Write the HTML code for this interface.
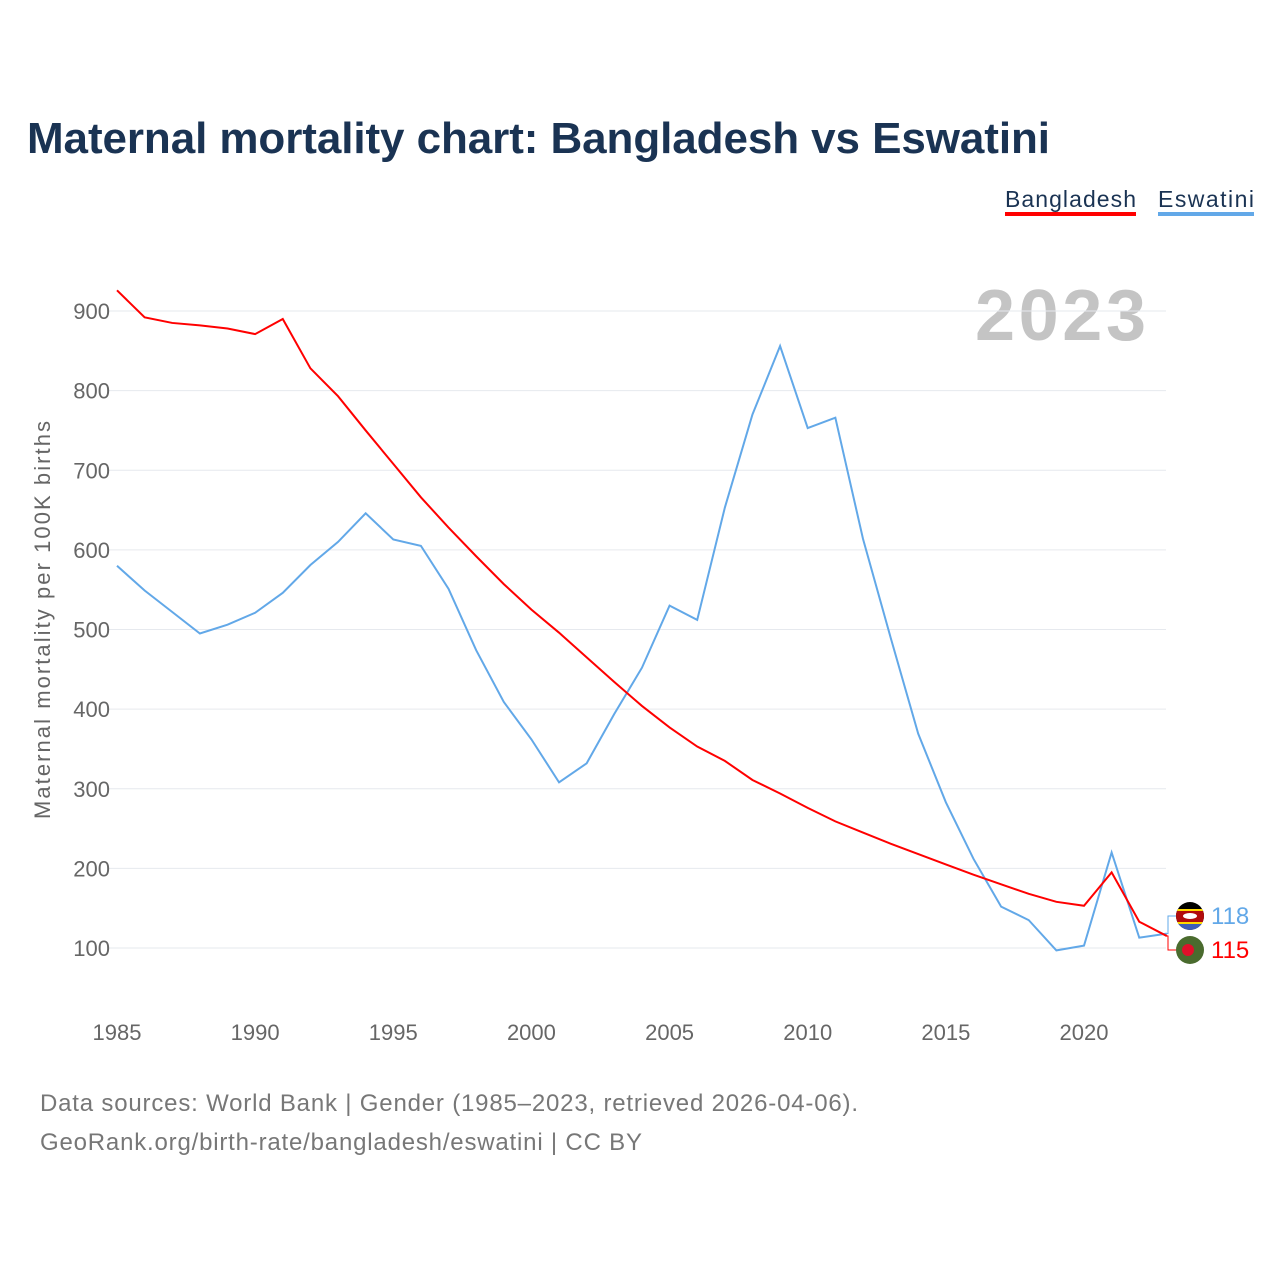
<!DOCTYPE html>
<html><head><meta charset="utf-8"><style>
body{margin:0;background:#fff;font-family:"Liberation Sans",sans-serif}
</style></head><body>
<svg id="c" width="1280" height="1280" xmlns="http://www.w3.org/2000/svg">
<defs><clipPath id="cl1"><circle cx="1190" cy="916" r="14"/></clipPath></defs>
<text x="27" y="153" font-size="44" font-weight="bold" fill="#1a3353" textLength="1023">Maternal mortality chart: Bangladesh vs Eswatini</text>
<g><text x="1005" y="207" font-size="23" fill="#1a3353" textLength="131">Bangladesh</text><rect x="1005" y="212" width="131" height="4" fill="#ff0000"/></g>
<g><text x="1158" y="207" font-size="23" fill="#1a3353" textLength="96">Eswatini</text><rect x="1158" y="212" width="96" height="4" fill="#62a8e8"/></g>
<text x="975" y="340" font-size="72" font-weight="bold" fill="#c4c4c4" textLength="171">2023</text>
<g id="grid"></g><g id="xt"></g><g id="lines"></g>
<text transform="translate(50,620) rotate(-90)" font-size="22" fill="#666" text-anchor="middle" textLength="398">Maternal mortality per 100K births</text>
<text x="40" y="1111" font-size="24" fill="#777" textLength="818">Data sources: World Bank | Gender (1985–2023, retrieved 2026-04-06).</text>
<text x="40" y="1150" font-size="24" fill="#777" textLength="602">GeoRank.org/birth-rate/bangladesh/eswatini | CC BY</text>
</svg>
<script>
const years=[];for(let y=1985;y<=2023;y++)years.push(y);
const bangladesh=[926,892,885,882,878,871,890,828,793,750,708,666,628,592,557,525,496,465,434,404,377,353,335,311,294,276,259,245,231,218,205,192,180,168,158,153,195,133,115];
const eswatini=[580,549,522,495,506,521,546,581,610,646,613,605,551,474,409,362,308,332,394,452,530,512,653,770,856,753,766,614,490,369,283,212,152,135,97,103,220,113,118];
const yTicks=[100,200,300,400,500,600,700,800,900];
const xTicks=[1985,1990,1995,2000,2005,2010,2015,2020];
const NS="http://www.w3.org/2000/svg";
const X=v=>117+(v-1985)*(1084-117)/35;
const Y=v=>948-(v-100)*(637/800);
function mk(t,a,p){const e=document.createElementNS(NS,t);for(const k in a)e.setAttribute(k,a[k]);p.appendChild(e);return e;}
const g=document.getElementById('grid');
yTicks.forEach(t=>{const l=mk('line',{x1:108,x2:1166,y1:Y(t),y2:Y(t),stroke:'#e6e9ee','stroke-width':1},g);


const tx=mk('text',{x:110,y:Y(t)+8,'font-size':22,fill:'#666','text-anchor':'end'},g);tx.textContent=t;

});
const xt=document.getElementById('xt');
xTicks.forEach(t=>{const tx=mk('text',{x:X(t),y:1040,'font-size':22,fill:'#666','text-anchor':'middle'},xt);tx.textContent=t;

});
const L=document.getElementById('lines');
function line(d,c,n){const p=mk('polyline',{points:d.map((v,i)=>X(years[i])+','+Y(v)).join(' '),fill:'none',stroke:c,'stroke-width':2},L);

}
line(eswatini,'#62a8e8','eswatini-line');line(bangladesh,'#ff0000','bangladesh-line');
const lx=X(2023),ey=916,by=950;
mk('polyline',{points:`${lx},${Y(eswatini[38])} 1168,${Y(eswatini[38])} 1168,${ey} 1176,${ey}`,fill:'none',stroke:'#62a8e8','stroke-width':1},L);
mk('polyline',{points:`${lx},${Y(bangladesh[38])} 1168,${Y(bangladesh[38])} 1168,${by} 1176,${by}`,fill:'none',stroke:'#ff0000','stroke-width':1},L);
const f1=mk('g',{'clip-path':'url(#cl1)'},L);
mk('rect',{x:1176,y:ey-14,width:28,height:28,fill:'#000'},f1);mk('rect',{x:1176,y:ey-7,width:28,height:2,fill:'#ffd900'},f1);mk('rect',{x:1176,y:ey-5,width:28,height:11,fill:'#b10c0c'},f1);mk('rect',{x:1176,y:ey+6,width:28,height:2,fill:'#ffd900'},f1);mk('rect',{x:1176,y:ey+8,width:28,height:6,fill:'#3e5eb9'},f1);mk('ellipse',{cx:1190,cy:ey,rx:7,ry:3,fill:'#fff'},f1);
const f2=mk('g',{},L);
mk('circle',{cx:1190,cy:by,r:14,fill:'#4a6b2e'},f2);mk('circle',{cx:1188,cy:by,r:6,fill:'#e0102a'},f2);
const t1=mk('text',{x:1211,y:ey+8,'font-size':24,fill:'#62a8e8'},L);t1.textContent=eswatini[38];


const t2=mk('text',{x:1211,y:by+8,'font-size':24,fill:'#ff0000'},L);t2.textContent=bangladesh[38];


</script>
</body></html>
